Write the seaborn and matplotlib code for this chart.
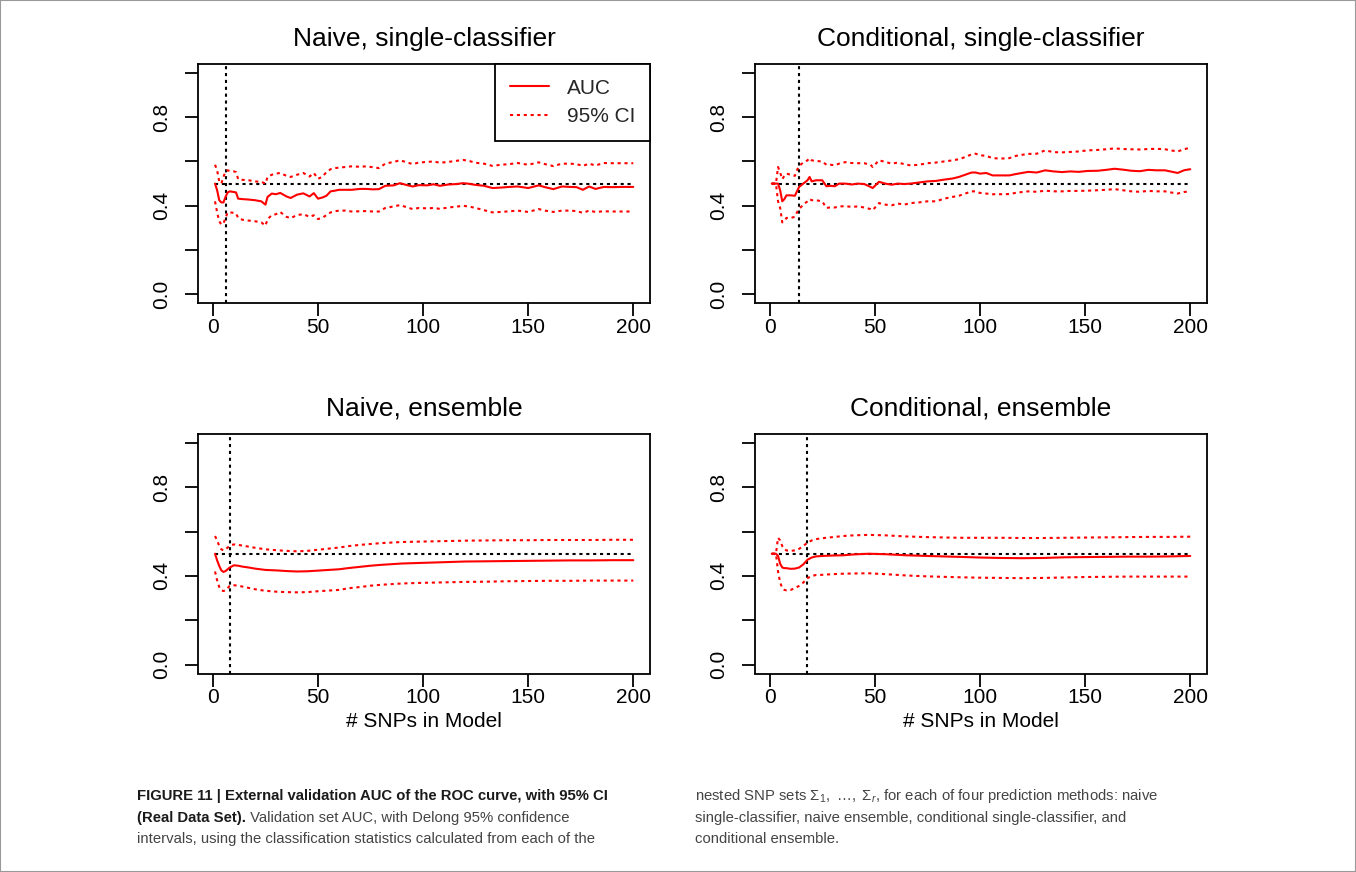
import matplotlib
matplotlib.use("Agg")
import matplotlib.pyplot as plt
import seaborn as sns
import numpy as np
import pandas as pd
from matplotlib.lines import Line2D
from matplotlib.patches import Rectangle

# ---------------- data ----------------
titles = ["Naive, single-classifier", "Conditional, single-classifier",
          "Naive, ensemble", "Conditional, ensemble"]
x_ticks = [0, 50, 100, 150, 200]
y_ticks = [0.0, 0.2, 0.4, 0.6, 0.8, 1.0]
y_tick_labels = ["0.0", "", "0.4", "", "0.8", ""]
x_label = "# SNPs in Model"
legend_labels = ["AUC", "95% CI"]
chance_level = 0.5
selected_size = [6, 14, 8, 18]

# Naive, single-classifier
ns_x = [1, 2, 3, 4, 5, 6, 7, 8, 10, 11, 12, 14, 17, 20, 23, 25, 26, 28, 30, 32, 35, 37, 40, 43, 46, 48,
        50, 52, 54, 56, 58, 60, 63, 66, 70, 73, 76, 79, 82, 86, 89, 92, 95, 98, 102, 105, 108, 112, 116,
        119, 122, 125, 129, 133, 137, 141, 145, 150, 155, 158, 162, 166, 170, 173, 176, 179, 182, 186,
        190, 195, 200]
ns_auc = [0.50, 0.47, 0.425, 0.415, 0.415, 0.44, 0.46, 0.465, 0.462, 0.46, 0.432, 0.43, 0.428, 0.425,
          0.42, 0.405, 0.44, 0.455, 0.452, 0.458, 0.442, 0.435, 0.45, 0.456, 0.442, 0.457, 0.432, 0.437,
          0.445, 0.465, 0.468, 0.472, 0.472, 0.472, 0.476, 0.476, 0.474, 0.475, 0.49, 0.492, 0.502, 0.494,
          0.487, 0.493, 0.492, 0.497, 0.49, 0.496, 0.498, 0.502, 0.499, 0.494, 0.49, 0.48, 0.482, 0.485,
          0.487, 0.48, 0.492, 0.484, 0.475, 0.487, 0.485, 0.484, 0.472, 0.487, 0.476, 0.485, 0.484,
          0.485, 0.485]
ns_hi = [0.585, 0.56, 0.51, 0.50, 0.53, 0.555, 0.56, 0.557, 0.555, 0.552, 0.52, 0.517, 0.515, 0.51,
         0.508, 0.50, 0.53, 0.54, 0.545, 0.548, 0.535, 0.53, 0.54, 0.548, 0.532, 0.548, 0.522, 0.53,
         0.552, 0.565, 0.57, 0.572, 0.575, 0.578, 0.576, 0.578, 0.574, 0.57, 0.59, 0.598, 0.605, 0.597,
         0.588, 0.595, 0.598, 0.60, 0.594, 0.598, 0.603, 0.607, 0.602, 0.594, 0.59, 0.58, 0.585, 0.588,
         0.593, 0.585, 0.596, 0.588, 0.579, 0.59, 0.59, 0.588, 0.58, 0.59, 0.582, 0.593, 0.592, 0.592,
         0.592]
ns_lo = [0.42, 0.37, 0.33, 0.315, 0.32, 0.345, 0.37, 0.37, 0.368, 0.365, 0.345, 0.337, 0.333, 0.33,
         0.325, 0.31, 0.34, 0.357, 0.362, 0.372, 0.35, 0.344, 0.358, 0.362, 0.35, 0.357, 0.34, 0.345,
         0.358, 0.37, 0.375, 0.378, 0.378, 0.374, 0.375, 0.376, 0.374, 0.374, 0.39, 0.397, 0.403, 0.394,
         0.385, 0.39, 0.388, 0.39, 0.386, 0.392, 0.396, 0.40, 0.396, 0.39, 0.38, 0.37, 0.372, 0.375,
         0.378, 0.372, 0.385, 0.378, 0.372, 0.378, 0.378, 0.376, 0.368, 0.378, 0.372, 0.375, 0.374,
         0.374, 0.374]

# Conditional, single-classifier
cs_x = [1, 2, 3, 4, 5, 6, 7, 8, 10, 12, 13, 14, 16, 18, 19, 20, 22, 25, 27, 29, 31, 33, 36, 39, 42, 45,
        48, 49, 52, 55, 58, 61, 64, 67, 71, 75, 79, 83, 87, 90, 93, 96, 98, 100, 103, 106, 110, 114, 117,
        120, 123, 127, 131, 135, 139, 143, 147, 151, 156, 160, 164, 168, 172, 176, 180, 184, 188, 192,
        194, 197, 200]
cs_auc = [0.5, 0.5, 0.5, 0.5, 0.47, 0.42, 0.43, 0.447, 0.447, 0.445, 0.465, 0.485, 0.50, 0.515, 0.53,
          0.51, 0.515, 0.515, 0.488, 0.49, 0.488, 0.50, 0.50, 0.496, 0.50, 0.498, 0.485, 0.48, 0.508, 0.50,
          0.495, 0.50, 0.498, 0.50, 0.505, 0.51, 0.512, 0.518, 0.523, 0.53, 0.54, 0.55, 0.55, 0.545, 0.548,
          0.537, 0.537, 0.537, 0.543, 0.548, 0.553, 0.55, 0.56, 0.555, 0.552, 0.555, 0.553, 0.557, 0.558,
          0.562, 0.567, 0.563, 0.558, 0.556, 0.562, 0.56, 0.56, 0.552, 0.548, 0.56, 0.565]
cs_hi = [0.5, 0.5, 0.5, 0.575, 0.55, 0.52, 0.535, 0.545, 0.54, 0.535, 0.56, 0.58, 0.595, 0.605, 0.615,
         0.605, 0.602, 0.60, 0.585, 0.585, 0.583, 0.59, 0.597, 0.593, 0.592, 0.592, 0.585, 0.575, 0.605,
         0.598, 0.59, 0.595, 0.588, 0.582, 0.585, 0.592, 0.595, 0.60, 0.605, 0.61, 0.62, 0.632, 0.635,
         0.628, 0.625, 0.615, 0.613, 0.615, 0.625, 0.63, 0.634, 0.635, 0.65, 0.642, 0.641, 0.643, 0.645,
         0.65, 0.652, 0.655, 0.659, 0.656, 0.655, 0.654, 0.656, 0.657, 0.655, 0.648, 0.645, 0.655, 0.662]
cs_lo = [0.5, 0.5, 0.5, 0.42, 0.39, 0.325, 0.33, 0.345, 0.345, 0.35, 0.37, 0.385, 0.405, 0.42, 0.43,
         0.425, 0.425, 0.42, 0.39, 0.393, 0.392, 0.397, 0.398, 0.395, 0.397, 0.392, 0.385, 0.38, 0.412,
         0.405, 0.402, 0.41, 0.405, 0.412, 0.415, 0.42, 0.42, 0.432, 0.44, 0.445, 0.455, 0.465, 0.465,
         0.458, 0.455, 0.452, 0.452, 0.453, 0.458, 0.462, 0.465, 0.463, 0.468, 0.465, 0.465, 0.467, 0.467,
         0.468, 0.47, 0.472, 0.475, 0.47, 0.465, 0.463, 0.467, 0.465, 0.465, 0.458, 0.455, 0.462, 0.465]

# Naive, ensemble
ne_x = [1, 2, 3, 4, 5, 6, 7, 8, 9, 10, 12, 14, 17, 20, 25, 30, 35, 40, 45, 50, 55, 60, 65, 70, 75, 80,
        90, 100, 110, 120, 130, 140, 150, 160, 170, 180, 190, 200]
ne_auc = [0.50, 0.47, 0.445, 0.425, 0.418, 0.422, 0.43, 0.438, 0.443, 0.448, 0.446, 0.442, 0.438, 0.433,
          0.427, 0.425, 0.422, 0.42, 0.421, 0.424, 0.427, 0.43, 0.436, 0.441, 0.446, 0.45, 0.456, 0.459,
          0.462, 0.465, 0.466, 0.467, 0.468, 0.469, 0.47, 0.47, 0.471, 0.471]
ne_hi = [0.58, 0.56, 0.535, 0.52, 0.515, 0.52, 0.528, 0.535, 0.54, 0.542, 0.54, 0.537, 0.532, 0.527,
         0.52, 0.516, 0.513, 0.511, 0.513, 0.518, 0.523, 0.528, 0.535, 0.54, 0.544, 0.548, 0.553, 0.555,
         0.557, 0.559, 0.56, 0.561, 0.561, 0.562, 0.562, 0.562, 0.563, 0.563]
ne_lo = [0.42, 0.38, 0.35, 0.335, 0.332, 0.335, 0.345, 0.355, 0.358, 0.358, 0.356, 0.352, 0.346, 0.34,
         0.333, 0.329, 0.327, 0.326, 0.327, 0.331, 0.334, 0.337, 0.345, 0.35, 0.356, 0.36, 0.366, 0.369,
         0.371, 0.373, 0.374, 0.376, 0.377, 0.378, 0.378, 0.379, 0.379, 0.379]

# Conditional, ensemble
ce_x = [1, 2, 3, 4, 5, 6, 7, 8, 10, 12, 14, 16, 18, 20, 22, 25, 30, 35, 40, 47, 55, 65, 75, 90, 100,
        110, 120, 130, 140, 150, 160, 170, 180, 190, 200]
ce_auc = [0.5, 0.5, 0.5, 0.49, 0.455, 0.438, 0.435, 0.435, 0.432, 0.433, 0.438, 0.452, 0.473, 0.483,
          0.488, 0.49, 0.492, 0.493, 0.497, 0.50, 0.498, 0.493, 0.49, 0.486, 0.483, 0.481, 0.48, 0.481,
          0.484, 0.485, 0.486, 0.487, 0.487, 0.488, 0.49]
ce_hi = [0.5, 0.5, 0.5, 0.572, 0.56, 0.535, 0.52, 0.515, 0.513, 0.515, 0.522, 0.535, 0.55, 0.56, 0.566,
         0.57, 0.575, 0.58, 0.583, 0.585, 0.583, 0.578, 0.575, 0.572, 0.572, 0.572, 0.571, 0.571, 0.572,
         0.573, 0.574, 0.575, 0.576, 0.576, 0.577]
ce_lo = [0.5, 0.5, 0.5, 0.42, 0.37, 0.345, 0.337, 0.335, 0.337, 0.345, 0.355, 0.37, 0.39, 0.4, 0.404,
         0.405, 0.408, 0.41, 0.411, 0.412, 0.408, 0.402, 0.398, 0.394, 0.392, 0.391, 0.39, 0.391, 0.393,
         0.395, 0.396, 0.397, 0.397, 0.397, 0.397]

caption_left = [
    ("FIGURE 11 | External validation AUC of the ROC curve, with 95% CI", ""),
    ("(Real Data Set).", " Validation set AUC, with Delong 95% confidence"),
    ("", "intervals, using the classification statistics calculated from each of the"),
]
caption_right = [
    r"nested SNP sets $\Sigma_1,\ \ldots,\ \Sigma_r$, for each of four prediction methods: naive",
    "single-classifier, naive ensemble, conditional single-classifier, and",
    "conditional ensemble.",
]

# ---------------- style ----------------
sns.set_theme(style="white")
plt.rcParams["font.family"] = ["Liberation Sans", "DejaVu Sans"]
plt.rcParams["mathtext.fontset"] = "custom"
plt.rcParams["mathtext.rm"] = "Liberation Sans"
plt.rcParams["mathtext.it"] = "Liberation Sans:italic"

W, H = 1356, 872
fig = plt.figure(figsize=(W / 100, H / 100), dpi=100)
fig.patch.set_facecolor("white")

DOT = (0, (1.5, 1.8))
LW = 1.5
TICK_FS = 15


def px_axes(left, top, right, bottom):
    return fig.add_axes([left / W, 1 - bottom / H, (right - left) / W, (bottom - top) / H])


boxes = [(198.3, 64, 650, 303.2), (755, 64, 1207, 303.2),
         (198.3, 434, 650, 673.5), (755, 434, 1207, 673.5)]
series = [(ns_x, ns_auc, ns_lo, ns_hi), (cs_x, cs_auc, cs_lo, cs_hi),
          (ne_x, ne_auc, ne_lo, ne_hi), (ce_x, ce_auc, ce_lo, ce_hi)]

axes = []
for i, (box, (xs, auc, lo, hi)) in enumerate(zip(boxes, series)):
    ax = px_axes(*box)
    axes.append(ax)
    df = pd.DataFrame({"n": xs, "auc": auc, "lo": lo, "hi": hi})
    ax.hlines(chance_level, df["n"].min(), df["n"].max(), colors="black", linestyles=DOT, lw=LW)
    ax.axvline(selected_size[i], color="black", linestyle=DOT, lw=LW)
    sns.lineplot(data=df, x="n", y="hi", ax=ax, color="red", lw=LW, linestyle=DOT,
                 estimator=None, sort=False)
    sns.lineplot(data=df, x="n", y="lo", ax=ax, color="red", lw=LW, linestyle=DOT,
                 estimator=None, sort=False)
    sns.lineplot(data=df, x="n", y="auc", ax=ax, color="red", lw=LW,
                 estimator=None, sort=False)
    ax.set_xlim(-6.96, 207.96)
    ax.set_ylim(-0.04, 1.04)
    ax.set_xticks(x_ticks)
    ax.set_xticklabels([str(t) for t in x_ticks], fontsize=TICK_FS)
    ax.set_yticks(y_ticks)
    ax.set_yticklabels(y_tick_labels, fontsize=TICK_FS, rotation=90, va="center")
    ax.set_xlabel("")
    ax.set_ylabel("")
    ax.tick_params(direction="out", length=9.5, width=1.3, color="black",
                   left=True, bottom=True, labelcolor="black")
    ax.tick_params(axis="x", pad=1.0)
    ax.tick_params(axis="y", pad=10)
    for s in ax.spines.values():
        s.set_visible(True)
        s.set_color("black")
        s.set_linewidth(1.3)
    ax.set_title(titles[i], fontsize=19, pad=13, color="black")
    if i >= 2:
        fig.text((box[0] + box[2]) / 2 / W, 1 - 721 / H, x_label, ha="center", va="center",
                 fontsize=TICK_FS, color="black")

handles = [Line2D([], [], color="red", lw=LW), Line2D([], [], color="red", lw=LW, linestyle=DOT)]
leg = axes[0].legend(handles, legend_labels, loc="upper right", borderaxespad=0, fancybox=False,
                     edgecolor="black", framealpha=1, fontsize=TICK_FS, handlelength=1.9,
                     handletextpad=0.85, borderpad=0.7, labelspacing=0.45)
leg.get_frame().set_linewidth(1.3)

# ---------------- caption ----------------
cap_font = ["Liberation Sans Narrow", "DejaVu Sans Condensed", "Liberation Sans", "DejaVu Sans"]
base_y = [800, 822, 843]
renderer = fig.canvas.get_renderer()

# caption size chosen so the first bold line spans the same width as in the reference
probe = fig.text(0, 0, caption_left[0][0], fontsize=11.5, fontweight="bold", family=cap_font)
w_probe = probe.get_window_extent(renderer).width
probe.remove()
cap_size = 11.5 * 475.0 / w_probe

for (bold, normal), yy in zip(caption_left, base_y):
    x0 = 137 / W
    if bold:
        t = fig.text(x0, 1 - yy / H, bold, fontsize=cap_size, fontweight="bold",
                     family=cap_font, va="baseline", ha="left", color="#1a1a1a")
        x0 = t.get_window_extent(renderer).x1 / W
    if normal:
        fig.text(x0, 1 - yy / H, normal, fontsize=cap_size, family=cap_font,
                 va="baseline", ha="left", color="#444444")
for line, yy in zip(caption_right, base_y):
    fig.text(695 / W, 1 - yy / H, line, fontsize=cap_size, family=cap_font,
             va="baseline", ha="left", color="#444444")

fig.patches.append(Rectangle((0, 0), 1, 1, transform=fig.transFigure, fill=False,
                             edgecolor="#999999", lw=1.5))

fig.savefig("out.png", dpi=100)
